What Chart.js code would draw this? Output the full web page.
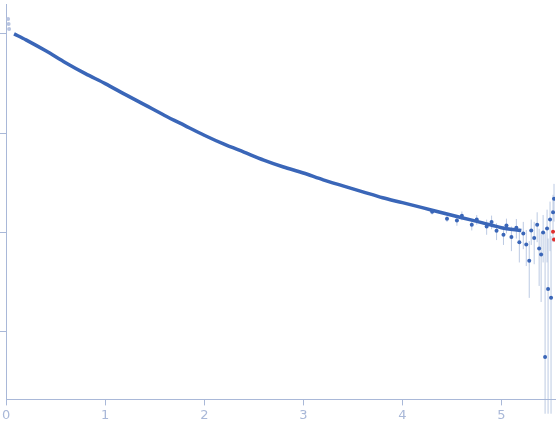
<!DOCTYPE html><html><head><script src="https://cdn.jsdelivr.net/npm/chart.js@4"></script>
<style>body{margin:0;background:#fff}#w{width:559px;height:437px}</style></head><body><div id="w"><canvas id="c"></canvas></div>
<script>
const curveX=[0.08,0.2,0.4,0.6,0.8,1.0,1.2,1.4,1.6,1.8,2.0,2.2,2.4,2.6,2.8,3.0,3.2,3.4,3.6,3.8,4.0,4.2,4.4,4.6,4.8,5.0,5.2];
const curveY=[1,0.871,0.676,0.513,0.398,0.316,0.246,0.193,0.151,0.120,0.0955,0.0776,0.0646,0.0537,0.0457,0.0398,0.0339,0.0295,0.0257,0.0224,0.0200,0.0178,0.0158,0.0141,0.0126,0.0112,0.0105];
const tailX=[4.3,4.45,4.55,4.6,4.7,4.75,4.85,4.9,4.95,5.02,5.05,5.1,5.15,5.18,5.22,5.25,5.28,5.3,5.33,5.36,5.38,5.4,5.42,5.44,5.46,5.47,5.49,5.5,5.52,5.53];
const tailY=[0.0162,0.0138,0.0132,0.0148,0.0120,0.0135,0.0115,0.0128,0.0104,0.0095,0.0118,0.0090,0.0112,0.0080,0.0098,0.0076,0.0052,0.0105,0.0088,0.0120,0.0069,0.0060,0.0100,0.00056,0.0110,0.0027,0.0135,0.0022,0.0160,0.0219];
const tailErr=[0.001,0.001,0.0015,0.0015,0.0015,0.0015,0.002,0.002,0.002,0.002,0.002,0.0025,0.0025,0.003,0.003,0.003,0.003,0.003,0.004,0.004,0.004,0.004,0.005,0.0095,0.006,0.006,0.007,0.007,0.008,0.009];
const redX=[5.52,5.53];const redY=[0.0102,0.0085];
const lowX=[0.02,0.025,0.03];const lowY=[1.41,1.26,1.12];
const xTicks=[0,1,2,3,4,5];const yTicks=[1,0.1,0.01,0.001];
const pts=(xs,ys)=>xs.map((x,i)=>({x,y:ys[i]}));
const errPlugin={id:'err',beforeDatasetsDraw(ch){const c=ch.ctx,xs=ch.scales.x,ys=ch.scales.y;c.save();c.strokeStyle='rgba(160,180,215,0.7)';c.lineWidth=1;
tailX.forEach((x,i)=>{const px=xs.getPixelForValue(x);const lo=Math.max(tailY[i]-tailErr[i],0.00015);c.beginPath();c.moveTo(px,ys.getPixelForValue(tailY[i]+tailErr[i]));c.lineTo(px,ys.getPixelForValue(lo));c.stroke();});c.restore();}};
new Chart(document.getElementById('c'),{type:'scatter',plugins:[errPlugin],data:{datasets:[
{data:pts(curveX,curveY),showLine:true,borderColor:'#3a66b8',borderWidth:3.5,pointRadius:0,tension:0.3},
{data:pts(tailX,tailY),backgroundColor:'#3a66b8',borderWidth:0,pointRadius:2},
{data:pts(redX,redY),backgroundColor:'#e03030',borderWidth:0,pointRadius:2},
{data:pts(lowX,lowY),backgroundColor:'#b8c4e0',borderWidth:0,pointRadius:2}]},
options:{responsive:true,maintainAspectRatio:false,animation:false,plugins:{legend:{display:false},tooltip:{enabled:false}},layout:{padding:{left:0,right:0,top:0,bottom:12}},
scales:{x:{type:'linear',min:0,max:5.54,afterBuildTicks:a=>{a.ticks=xTicks.map(v=>({value:v}))},grid:{display:true,drawOnChartArea:false,color:'#a9b8d8',tickLength:6},border:{color:'#a9b8d8'},ticks:{color:'#a9b8d8',font:{size:13,family:'DejaVu Sans'},padding:2,callback:v=>v}},
y:{type:'logarithmic',min:0.000209,max:2.0,afterBuildTicks:a=>{a.ticks=yTicks.map(v=>({value:v}))},afterFit:a=>{a.width=5},grid:{display:true,drawOnChartArea:false,color:'#a9b8d8',tickLength:8},border:{color:'#a9b8d8'},ticks:{display:false}}}}});
</script></body></html>
